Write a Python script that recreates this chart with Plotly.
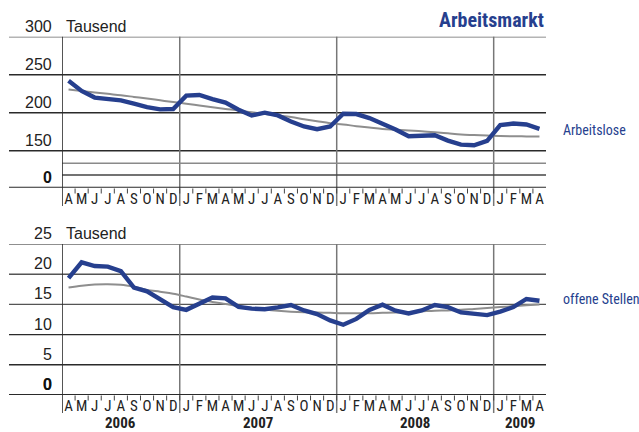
import plotly.graph_objects as go

W, H = 639, 432

months = ["A", "M", "J", "J", "A", "S", "O", "N", "D"] + \
         ["J", "F", "M", "A", "M", "J", "J", "A", "S", "O", "N", "D"] * 2 + \
         ["J", "F", "M", "A"]
years = ["2006", "2007", "2008", "2009"]
year_start = [0, 9, 21, 33]
year_end = [9, 21, 33, 37]

arbeitslose = [241.9, 228.6, 219.9, 217.6, 216.3, 211.9, 207.4, 204.4, 204.8,
               222.5, 223.3, 218.0, 213.2, 204.0, 196.4, 200.0, 196.4, 188.5, 181.9, 178.3, 181.9,
               198.7, 198.2, 192.9, 186.0, 177.9, 169.0, 170.0, 170.3, 163.3, 158.0, 157.1, 162.9,
               183.6, 185.8, 184.5, 178.8]
arbeitslose_trend = [230.5, 228.6, 226.7, 224.8, 223.0, 220.8, 218.6, 216.3, 214.0,
                     211.9, 209.5, 207.2, 205.0, 203.0, 200.5, 198.4, 196.3, 194.2, 191.5, 188.8, 186.2,
                     184.5, 182.3, 180.4, 178.5, 177.5, 176.5, 175.6, 174.3, 172.8, 171.3, 170.6, 169.9,
                     169.3, 169.0, 168.8, 168.6]
offene = [19.36, 21.96, 21.35, 21.25, 20.5, 17.77, 17.15, 15.94, 14.56,
          14.1, 15.2, 16.15, 16.0, 14.6, 14.3, 14.2, 14.5, 14.9, 14.0, 13.4, 12.35,
          11.63, 12.6, 14.1, 14.95, 13.95, 13.5, 14.0, 14.9, 14.55, 13.67, 13.45, 13.23,
          13.8, 14.55, 15.9, 15.6]
offene_trend = [17.8, 18.1, 18.3, 18.35, 18.25, 17.9, 17.4, 17.1, 16.77,
                16.3, 15.8, 15.4, 15.05, 14.7, 14.4, 14.15, 13.95, 13.8, 13.7, 13.65, 13.6,
                13.55, 13.55, 13.55, 13.6, 13.65, 13.75, 13.85, 13.95, 14.0, 14.1, 14.25, 14.4,
                14.55, 14.7, 14.85, 15.0]

top_ticks = [300, 250, 200, 150]
bot_ticks = [25, 20, 15, 10, 5, 0]
top_range = [101.3, 300]
bot_range = [0, 25]
top_break = [133.4, 118.0]

BLUE = "#263f8e"
GREY = "#8e8e8e"
DARK = "#2a2a2a"
NARROW = "Liberation Sans Narrow, Roboto Condensed, DejaVu Sans Condensed, Arial Narrow, sans-serif"
REG = "Liberation Sans, Arial, sans-serif"

n = len(months)
xs = [i + 0.5 for i in range(n)]

fig = go.Figure()
fig.add_trace(go.Scatter(x=xs, y=arbeitslose_trend, mode="lines", line=dict(color=GREY, width=2, shape="spline"),
                         xaxis="x", yaxis="y", showlegend=False, hoverinfo="skip"))
fig.add_trace(go.Scatter(x=xs, y=arbeitslose, mode="lines", line=dict(color=BLUE, width=4.4),
                         xaxis="x", yaxis="y", showlegend=False))
fig.add_trace(go.Scatter(x=xs, y=offene_trend, mode="lines", line=dict(color=GREY, width=2, shape="spline"),
                         xaxis="x2", yaxis="y2", showlegend=False, hoverinfo="skip"))
fig.add_trace(go.Scatter(x=xs, y=offene, mode="lines", line=dict(color=BLUE, width=4.4),
                         xaxis="x2", yaxis="y2", showlegend=False))

x_dom = [62 / W, 546 / W]
top_dom = [1 - 187.7 / H, 1 - 36.7 / H]
bot_dom = [1 - 395 / H, 1 - 244 / H]

xcommon = dict(range=[0, n], domain=x_dom, showgrid=False, zeroline=False, showline=False,
               tickmode="array", tickvals=xs, ticktext=months, ticks="",
               tickfont=dict(family=NARROW, size=15, color="#222"), fixedrange=True)
ycommon = dict(showgrid=False, zeroline=False, showline=False, showticklabels=False, ticks="", fixedrange=True)

shapes = []
annotations = []

def px_to_paper_y(py):
    return 1 - py / H

for (xa, ya, ticks, rng, dom, labtop, labbot) in [
        ("x", "y", top_ticks, top_range, top_dom, 36.7, 206),
        ("x2", "y2", bot_ticks, bot_range, bot_dom, 244, 413)]:
    for i, t in enumerate(ticks):
        if t < rng[0] or t > rng[1]:
            continue
        col = "#6a6a6a" if i == 0 else ("#555" if (ya == "y2" and t in (20, 15)) else DARK)
        shapes.append(dict(type="line", xref="paper", yref=ya, x0=9 / W, x1=546 / W, y0=t, y1=t,
                           line=dict(color=col, width=1.4), layer="below"))
    shapes.append(dict(type="line", xref="paper", yref=ya, x0=9 / W, x1=546 / W, y0=rng[0], y1=rng[0],
                       line=dict(color=DARK, width=2), layer="above"))
    for i in range(1, n):
        shapes.append(dict(type="line", xref=xa, yref="paper", x0=i, x1=i,
                           y0=px_to_paper_y(labbot - 18 + 0.5), y1=px_to_paper_y(labbot - 12.5),
                           line=dict(color="#444", width=1)))
    shapes.append(dict(type="line", xref=xa, yref="paper", x0=0, x1=0,
                       y0=px_to_paper_y(labbot), y1=px_to_paper_y(labtop),
                       line=dict(color=DARK, width=1.6), layer="above"))
    for s in year_start[1:]:
        shapes.append(dict(type="line", xref=xa, yref="paper", x0=s, x1=s,
                           y0=px_to_paper_y(labbot), y1=px_to_paper_y(labtop),
                           line=dict(color="#777", width=1.5), layer="below"))
    for t in ticks:
        if t < rng[0] or t > rng[1]:
            continue
        annotations.append(dict(text=str(t), x=54 / W, xref="paper", xanchor="right",
                                y=t, yref=ya, yanchor="middle", yshift=10.5, showarrow=False,
                                font=dict(family=REG, size=16, color="#222")))
    annotations.append(dict(text="<b>0</b>", x=54 / W, xref="paper", xanchor="right",
                            y=rng[0], yref=ya, yanchor="middle", yshift=10.5, showarrow=False,
                            font=dict(family=REG, size=16, color="#111")))
    annotations.append(dict(text="Tausend", x=64 / W, xref="paper", xanchor="left",
                            y=rng[1], yref=ya, yanchor="middle", yshift=10.5, showarrow=False,
                            font=dict(family=REG, size=16, color="#222")))

for j, b in enumerate(top_break):
    shapes.append(dict(type="line", xref="x", yref="y", x0=0, x1=n, y0=b, y1=b,
                       line=dict(color="#8a8a8a" if j == 0 else "#444", width=1.4), layer="below"))

for yl, s, e in zip(years, year_start, year_end):
    annotations.append(dict(text="<b>" + yl + "</b>", x=(s + e) / 2, xref="x2", xanchor="center",
                            y=px_to_paper_y(422.5), yref="paper", yanchor="middle", showarrow=False,
                            font=dict(family=NARROW, size=15, color="#222")))

annotations.append(dict(text="<b>Arbeitsmarkt</b>", x=546 / W, xref="paper", xanchor="right",
                        y=px_to_paper_y(20), yref="paper", yanchor="middle", showarrow=False,
                        font=dict(family=NARROW, size=20, color=BLUE)))
annotations.append(dict(text="Arbeitslose", x=561 / W, xref="paper", xanchor="left",
                        y=px_to_paper_y(130), yref="paper", yanchor="middle", showarrow=False,
                        font=dict(family=NARROW, size=14, color=BLUE)))
annotations.append(dict(text="offene Stellen", x=561 / W, xref="paper", xanchor="left",
                        y=px_to_paper_y(299), yref="paper", yanchor="middle", showarrow=False,
                        font=dict(family=NARROW, size=14, color=BLUE)))

fig.update_layout(
    width=W, height=H, margin=dict(l=0, r=0, t=0, b=0),
    paper_bgcolor="white", plot_bgcolor="rgba(0,0,0,0)",
    xaxis=dict(xcommon, anchor="y"),
    yaxis=dict(ycommon, range=top_range, domain=top_dom, anchor="x"),
    xaxis2=dict(xcommon, anchor="y2"),
    yaxis2=dict(ycommon, range=bot_range, domain=bot_dom, anchor="x2"),
    shapes=shapes, annotations=annotations, showlegend=False,
)

fig.write_html("out.html", config={"displayModeBar": False},
               post_script="document.body.style.margin='0';document.body.style.overflow='hidden';")
